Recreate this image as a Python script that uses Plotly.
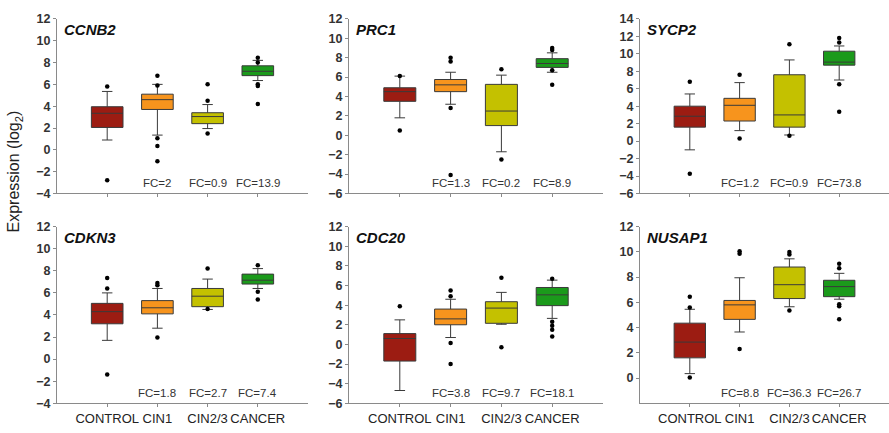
import plotly.graph_objects as go

# ---------------- data ----------------
groups = ["CONTROL", "CIN1", "CIN2/3", "CANCER"]
colors = ["#9c1c12", "#f7941d", "#c4c100", "#1b9a1b"]
genes = ["CCNB2", "PRC1", "SYCP2", "CDKN3", "CDC20", "NUSAP1"]

CCNB2 = dict(lower=[0.9, 1.35, 1.95, 6.35], q1=[2.05, 3.7, 2.4, 6.8], median=[3.35, 4.6, 3.05, 7.2],
             q3=[3.95, 5.1, 3.4, 7.7], upper=[5.35, 6.0, 4.15, 8.2])
CCNB2_out = [[5.8, -2.8], [6.8, 5.9, 1.05, 0.35, -1.05], [6.0, 4.5, 1.5], [8.45, 8.0, 6.0, 5.85, 4.2]]
CCNB2_fc = ["", "FC=2", "FC=0.9", "FC=13.9"]

PRC1 = dict(lower=[1.8, 3.2, -1.7, 6.5], q1=[3.5, 4.5, 1.0, 7.0], median=[4.5, 5.2, 2.5, 7.4],
            q3=[4.9, 5.75, 5.25, 7.9], upper=[6.1, 6.5, 6.2, 8.5])
PRC1_out = [[0.5, 6.1], [8.0, 7.6, 2.8, -4.1], [6.8, -2.5], [9.0, 8.8, 6.7, 5.2]]
PRC1_fc = ["", "FC=1.3", "FC=0.2", "FC=8.9"]

SYCP2 = dict(lower=[-1.0, 1.2, 0.7, 7.0], q1=[1.6, 2.3, 1.6, 8.7], median=[2.85, 4.1, 3.0, 9.05],
             q3=[4.0, 4.9, 7.6, 10.3], upper=[5.4, 6.7, 9.3, 10.9])
SYCP2_out = [[6.8, -3.75], [7.6, 0.3], [11.1, 0.6], [11.8, 11.3, 6.5, 3.35]]
SYCP2_fc = ["", "FC=1.2", "FC=0.9", "FC=73.8"]

CDKN3 = dict(lower=[1.7, 2.8, 4.5, 6.4], q1=[3.2, 4.1, 4.75, 6.8], median=[4.3, 4.65, 5.7, 7.15],
             q3=[5.05, 5.3, 6.4, 7.7], upper=[6.0, 6.4, 7.25, 8.2])
CDKN3_out = [[7.35, 6.4, -1.4], [6.9, 6.7, 1.95], [8.2, 4.55], [8.5, 6.1, 5.4]]
CDKN3_fc = ["", "FC=1.8", "FC=2.7", "FC=7.4"]

CDC20 = dict(lower=[-4.7, 0.7, 2.05, 2.65], q1=[-1.7, 2.0, 2.15, 3.95], median=[0.6, 2.6, 3.7, 5.05],
             q3=[1.1, 3.6, 4.35, 5.8], upper=[2.5, 4.6, 5.3, 6.55])
CDC20_out = [[3.9], [5.5, 4.9, 0.15, -2.0], [6.8, -0.3], [6.7, 2.3, 1.9, 1.5, 0.8]]
CDC20_fc = ["", "FC=3.8", "FC=9.7", "FC=18.1"]

NUSAP1 = dict(lower=[0.35, 3.65, 5.65, 6.25], q1=[1.6, 4.65, 6.3, 6.45], median=[2.85, 5.8, 7.4, 7.25],
              q3=[4.35, 6.15, 8.8, 7.75], upper=[5.45, 7.95, 9.45, 8.3])
NUSAP1_out = [[6.45, 5.6, 0.05], [10.05, 9.85, 2.3], [10.0, 9.8, 5.35], [9.05, 8.7, 5.85, 5.7, 4.65]]
NUSAP1_fc = ["", "FC=8.8", "FC=36.3", "FC=26.7"]

yticks = [list(range(-4, 13, 2)), list(range(-6, 13, 2)), list(range(-6, 15, 2)),
          list(range(-4, 13, 2)), list(range(-6, 13, 2)), list(range(0, 13, 2))]
yranges = [[-4, 12], [-6, 12], [-6, 14], [-4, 12], [-6, 12], [-2, 12]]

stats = [CCNB2, PRC1, SYCP2, CDKN3, CDC20, NUSAP1]
outs = [CCNB2_out, PRC1_out, SYCP2_out, CDKN3_out, CDC20_out, NUSAP1_out]
fcs = [CCNB2_fc, PRC1_fc, SYCP2_fc, CDKN3_fc, CDC20_fc, NUSAP1_fc]

# ---------------- layout geometry (pixels) ----------------
W, H = 889, 433
xdom_px = [(57, 308), (349, 603), (640, 889)]
ydom_px = [(12.3, 192.7), (227.0, 409.5)]  # top, bottom (from top of image)

FONT = "Liberation Sans, Arial, sans-serif"
AXIS_COL = "#8a8a8a"

fig = go.Figure()
layout = dict(width=W, height=H, margin=dict(l=0, r=0, t=0, b=0),
              paper_bgcolor="white", plot_bgcolor="white", showlegend=False,
              boxmode="overlay", annotations=[])

for p in range(6):
    row, col = divmod(p, 3)
    ax = "" if p == 0 else str(p + 1)
    xr, yr = "x" + ax, "y" + ax
    st = stats[p]
    for g in range(4):
        fig.add_trace(go.Box(
            x=[g], q1=[st["q1"][g]], median=[st["median"][g]], q3=[st["q3"][g]],
            lowerfence=[st["lower"][g]], upperfence=[st["upper"][g]],
            width=0.63, whiskerwidth=0.33, fillcolor=colors[g],
            line=dict(color="#3a3a3a", width=1), boxpoints=False,
            xaxis=xr, yaxis=yr, hoverinfo="skip", showlegend=False))
    ox, oy = [], []
    for g in range(4):
        for v in outs[p][g]:
            ox.append(g)
            oy.append(v)
    fig.add_trace(go.Scatter(x=ox, y=oy, mode="markers", marker=dict(color="black", size=4.5),
                             xaxis=xr, yaxis=yr, hoverinfo="skip", showlegend=False))

    x0, x1 = xdom_px[col]
    yt, yb = ydom_px[row]
    layout["xaxis" + ax] = dict(
        domain=[x0 / W, x1 / W], range=[-1, 4], anchor=yr,
        showline=True, linecolor=AXIS_COL, linewidth=1, showgrid=False, zeroline=False,
        tickvals=[0, 1, 2, 3], ticktext=groups, ticks="outside", ticklen=3,
        tickcolor=AXIS_COL, showticklabels=(row == 1),
        tickfont=dict(family=FONT, size=13, color="#222222"), fixedrange=True)
    layout["yaxis" + ax] = dict(
        domain=[1 - yb / H, 1 - yt / H], range=yranges[p], anchor=xr,
        showline=True, linecolor=AXIS_COL, linewidth=1, showgrid=False, zeroline=False,
        tickvals=yticks[p], ticks="outside", ticklen=3, tickcolor=AXIS_COL,
        tickfont=dict(family=FONT, size=12.5, color="#333333", weight="bold"), fixedrange=True)

    # gene name
    layout["annotations"].append(dict(
        text="<b><i>%s</i></b>" % genes[p], xref=xr + " domain", yref=yr + " domain",
        x=0, y=1, xanchor="left", yanchor="middle", xshift=5, yshift=-11, showarrow=False,
        font=dict(family=FONT, size=15, color="#111111")))
    # fold changes
    for g in range(4):
        if fcs[p][g]:
            layout["annotations"].append(dict(
                text=fcs[p][g], xref=xr, yref=yr + " domain", x=g, y=0,
                xanchor="center", yanchor="middle", yshift=10.5, showarrow=False,
                font=dict(family=FONT, size=11.5, color="#333333")))

layout["annotations"].append(dict(
    text="Expression (log<sub>2</sub>)", xref="paper", yref="paper", x=15 / W, y=1 - 170 / H,
    xanchor="center", yanchor="middle", textangle=-90, showarrow=False,
    font=dict(family=FONT, size=16, color="#222222")))

fig.update_layout(**layout)
fig.write_html("out.html")
